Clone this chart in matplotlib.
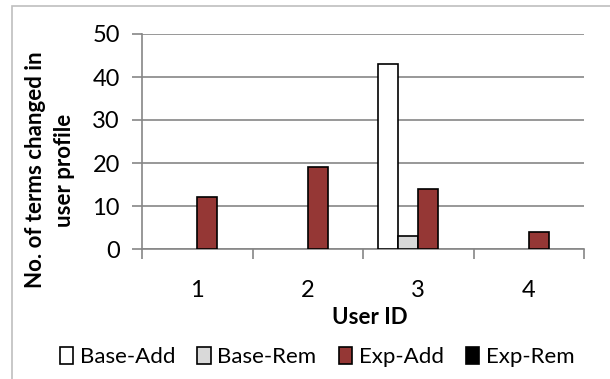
import numpy as np
import matplotlib.pyplot as plt
from matplotlib.patches import Rectangle

users = ['1', '2', '3', '4']
series = ['Base-Add', 'Base-Rem', 'Exp-Add', 'Exp-Rem']
base_add = [0, 0, 43, 0]
base_rem = [0, 0, 3, 0]
exp_add = [12, 19, 14, 4]
exp_rem = [0, 0, 0, 0]
colors = ['white', '#d9d9d9', '#953735', 'black']

plt.rcParams['font.family'] = ['Lato', 'DejaVu Sans']

fig = plt.figure(figsize=(6.1, 3.79), dpi=100)
ax = fig.add_axes([142 / 610, 1 - 249 / 379, 442 / 610, 215 / 379])

x = np.arange(len(users))
w = 0.18
for i, (vals, c, name) in enumerate(zip([base_add, base_rem, exp_add, exp_rem], colors, series)):
    # zero-height bars are not drawn in the original
    lw = [1.2 if v else 0 for v in vals]
    ax.bar(x + (i - 1.5) * w, vals, w, color=c, edgecolor='black', linewidth=lw,
           label=name, zorder=3)

ax.set_xlim(-0.5, 3.5)
ax.set_ylim(0, 50)
ax.set_yticks(range(0, 51, 10))
ax.set_xticks(x)
ax.set_xticklabels(users)
ax.set_xticks(np.arange(-0.5, 4, 1), minor=True)
ax.tick_params(axis='x', which='major', length=0, labelsize=17, pad=22)
ax.tick_params(axis='x', which='minor', length=7, color='#868686', width=1.2)
ax.tick_params(axis='y', length=7, color='#868686', width=1.2, labelsize=17, pad=9)
ax.grid(axis='y', color='#868686', linewidth=1.2, zorder=0)
for s in ['top', 'right']:
    ax.spines[s].set_visible(False)
for s in ['left', 'bottom']:
    ax.spines[s].set_color('#868686')
    ax.spines[s].set_linewidth(1.2)

ax.set_xlabel('User ID', fontsize=16, fontweight='bold')
ax.xaxis.set_label_coords((370 - 142) / 442, -(318 - 249) / 215)
ax.xaxis.label.set_va('center')
ax.set_ylabel('No. of terms changed in\nuser profile', fontsize=16, fontweight='bold',
              linespacing=1.45)
ax.yaxis.set_label_coords(-(142 - 50) / 442, (249 - 170) / 215)
ax.yaxis.label.set_va('center')

leg = ax.legend(loc='center', bbox_to_anchor=(317 / 442 - 142 / 442, -108 / 215),
                ncol=4, frameon=False, fontsize=16, handlelength=0.6, handleheight=0.8,
                handletextpad=0.3, columnspacing=1.0, borderaxespad=0)
for h in leg.legend_handles:
    h.set_linewidth(1.2)

fig.patches.append(Rectangle((12 / 610, -0.1), 1.2, 1 - 6 / 379 + 0.1, transform=fig.transFigure,
                             fill=False, edgecolor='#bfbfbf', linewidth=1.2))

fig.savefig('out.png', dpi=100)
